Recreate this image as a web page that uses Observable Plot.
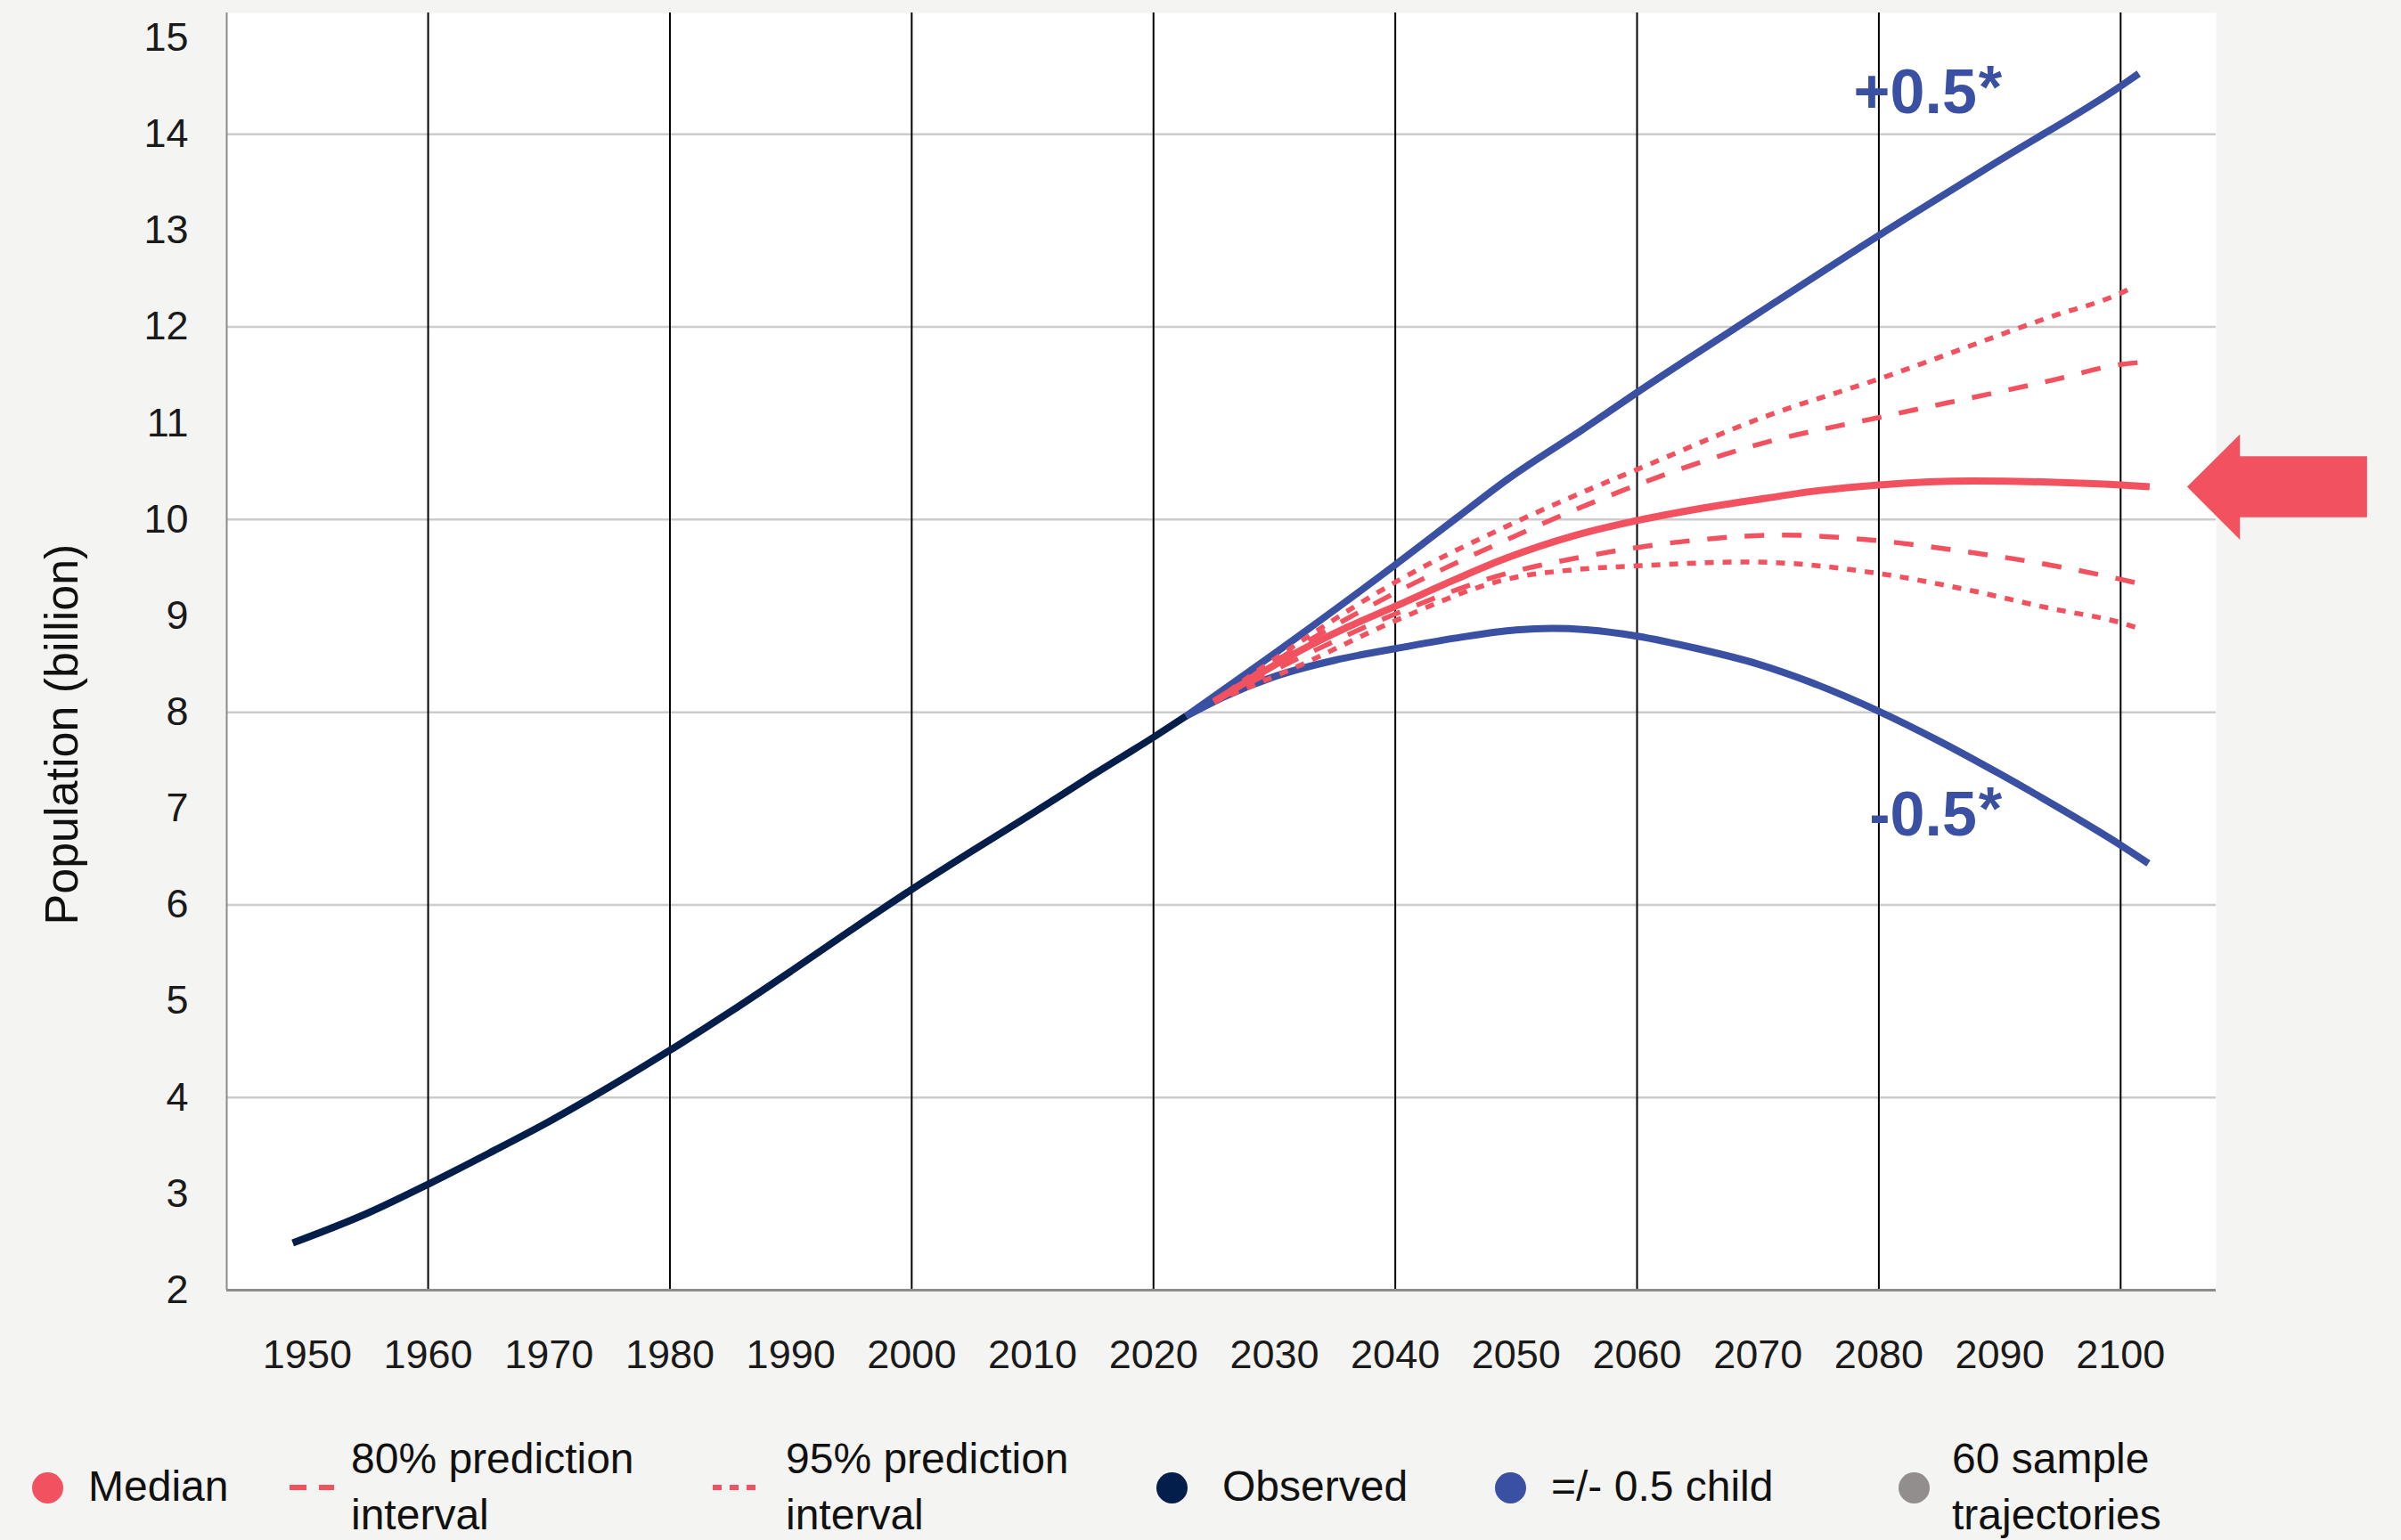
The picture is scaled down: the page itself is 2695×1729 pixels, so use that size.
<!DOCTYPE html>
<html><head><meta charset="utf-8">
<script src="https://cdn.jsdelivr.net/npm/d3@7"></script>
<script src="https://cdn.jsdelivr.net/npm/@observablehq/plot@0.6"></script>
<style>
html,body{margin:0;padding:0;background:#f4f4f2;}
body{width:2695px;height:1729px;overflow:hidden;font-family:"Liberation Sans",Arial,Helvetica,sans-serif;color:#111;}
#chart svg{display:block;}
#legend{position:relative;width:2695px;height:169px;font-size:48px;line-height:63px;}
#legend .txt{position:absolute;white-space:nowrap;}
#legend .mk{position:absolute;}
</style></head><body>
<div id="chart"></div>
<div id="legend"></div>
<script>
// ---------- data (years read against the chart's vertical grid) ----------
const obsYears = [1948.8, 1955, 1960, 1965, 1970, 1975, 1980, 1985, 1990, 1995, 2000, 2005, 2010, 2015, 2020, 2022.7];
const obsPop   = [2.49, 2.80, 3.10, 3.42, 3.75, 4.11, 4.49, 4.89, 5.31, 5.74, 6.16, 6.56, 6.95, 7.35, 7.74, 7.96];

const plusYears = [2022.7, 2032, 2040, 2045, 2049.2, 2055.8, 2060, 2070, 2080, 2090, 2100, 2101.5];
const plusPop   = [7.96, 8.79, 9.53, 10.01, 10.41, 10.96, 11.32, 12.14, 12.95, 13.73, 14.50, 14.63];

const minusYears = [2022.7, 2026, 2030, 2035, 2040, 2045, 2050, 2053, 2056, 2060, 2065, 2070, 2075, 2080, 2085, 2090, 2095, 2100, 2102.3];
const minusPop   = [7.96, 8.17, 8.37, 8.54, 8.66, 8.77, 8.855, 8.87, 8.855, 8.79, 8.66, 8.50, 8.28, 8.01, 7.70, 7.36, 7.00, 6.62, 6.43];

const medianYears = [2025, 2028, 2032, 2036, 2040, 2045, 2049.2, 2055, 2060, 2065, 2070.6, 2075, 2080, 2087.8, 2094, 2100, 2102.4];
const medianPop   = [8.11, 8.34, 8.63, 8.88, 9.10, 9.38, 9.60, 9.84, 9.99, 10.11, 10.22, 10.30, 10.36, 10.40, 10.39, 10.36, 10.34];

const up95Years = [2025, 2032, 2040, 2049.2, 2055.8, 2060, 2070.6, 2080, 2094.1, 2100, 2101];
const up95Pop   = [8.11, 8.72, 9.35, 9.93, 10.30, 10.52, 11.07, 11.46, 12.10, 12.35, 12.41];

const up80Years = [2025, 2032, 2040, 2049.2, 2055.8, 2060, 2070.6, 2080, 2094.1, 2100, 2102.4];
const up80Pop   = [8.11, 8.68, 9.24, 9.79, 10.15, 10.36, 10.80, 11.06, 11.44, 11.61, 11.64];

const lo80Years = [2025, 2032, 2040, 2049.2, 2055.8, 2060, 2066, 2071.8, 2080, 2087, 2094.1, 2100, 2102.4];
const lo80Pop   = [8.11, 8.56, 9.02, 9.44, 9.62, 9.71, 9.80, 9.84, 9.78, 9.67, 9.53, 9.38, 9.31];

const lo95Years = [2025, 2032, 2040, 2049.2, 2055.8, 2060, 2069.3, 2080, 2087, 2094.1, 2100, 2101.3];
const lo95Pop   = [8.11, 8.48, 8.95, 9.38, 9.49, 9.52, 9.56, 9.44, 9.28, 9.08, 8.93, 8.88];

const xTickYears = [1950, 1960, 1970, 1980, 1990, 2000, 2010, 2020, 2030, 2040, 2050, 2060, 2070, 2080, 2090, 2100];
const gridYears  = [1960, 1980, 2000, 2020, 2040, 2060, 2080, 2100];
const yTicks     = [2, 3, 4, 5, 6, 7, 8, 9, 10, 11, 12, 13, 14, 15];
const yGrid      = [4, 6, 8, 10, 12, 14];

const annotations = [
  {year: 2088.1, value: 14.425, text: "+0.5"},
  {year: 2088.1, value: 6.93,  text: "-0.5"}
];

const legendLabels = [["Median"], ["80% prediction", "interval"], ["95% prediction", "interval"], ["Observed"], ["=/- 0.5 child"], ["60 sample", "trajectories"]];

// ---------- styles ----------
const RED = "#f2525f", BLUE = "#3a50a2", NAVY = "#041e4c", GRAY = "#938e8e";
const xDomain = [1943.34, 2107.9];
const yDomain = [2, 15.26];

const toRows = (ys, vs) => ys.map((y, i) => ({year: y, value: vs[i]}));
const obs = toRows(obsYears, obsPop);
const plus = toRows(plusYears, plusPop);
const minus = toRows(minusYears, minusPop);
const med = toRows(medianYears, medianPop);
const up95 = toRows(up95Years, up95Pop);
const up80 = toRows(up80Years, up80Pop);
const lo80 = toRows(lo80Years, lo80Pop);
const lo95 = toRows(lo95Years, lo95Pop);

const arrowSymbol = {
  draw(ctx) {
    ctx.moveTo(0, 0);
    ctx.lineTo(59.4, -59);
    ctx.lineTo(59.4, -34.3);
    ctx.lineTo(202, -34.3);
    ctx.lineTo(202, 34.3);
    ctx.lineTo(59.4, 34.3);
    ctx.lineTo(59.4, 59.5);
    ctx.closePath();
  }
};

const lineOpts = (stroke, w, dash) => ({x: "year", y: "value", stroke, strokeWidth: w, strokeDasharray: dash, curve: "monotone-x", strokeLinecap: "butt", strokeLinejoin: "round"});

const chart = Plot.plot({
  width: 2695,
  height: 1560,
  marginLeft: 254,
  marginRight: 208,
  marginTop: 14,
  marginBottom: 112,
  style: {background: "transparent", fontFamily: '"Liberation Sans", Arial, Helvetica, sans-serif', fontSize: "45px", color: "#1a1a1a"},
  x: {domain: xDomain},
  y: {domain: yDomain},
  marks: [
    Plot.frame({fill: "white", stroke: "none"}),
    Plot.ruleY(yGrid, {stroke: "#cccccc", strokeWidth: 2.5}),
    Plot.ruleX(gridYears, {stroke: "#000", strokeWidth: 2}),
    Plot.ruleX([xDomain[0]], {stroke: "#8c8c8c", strokeWidth: 2}),
    Plot.ruleY([yDomain[0]], {stroke: "#8c8c8c", strokeWidth: 3}),
    Plot.axisY({ticks: yTicks, tickSize: 0, tickPadding: 43, label: null, fontSize: 45, tickFormat: d => String(d)}),
    Plot.axisX({ticks: xTickYears, tickSize: 0, tickPadding: 56, label: null, fontSize: 45, tickFormat: d => String(d)}),
    Plot.text(["Population (billion)"], {frameAnchor: "left", textAnchor: "middle", text: d => d, rotate: -90, dx: -184, dy: 93, fontSize: 52, fill: "#111"}),
    Plot.line(obs, lineOpts(NAVY, 8)),
    Plot.line(plus, lineOpts(BLUE, 8)),
    Plot.line(minus, lineOpts(BLUE, 8)),
    Plot.line(up95, lineOpts(RED, 5.5, "10,10")),
    Plot.line(lo95, lineOpts(RED, 5.5, "10,10")),
    Plot.line(up80, lineOpts(RED, 5.5, "22,20")),
    Plot.line(lo80, lineOpts(RED, 5.5, "22,20")),
    Plot.line(med, lineOpts(RED, 8)),
    Plot.text(annotations, {x: "year", y: "value", text: "text", textAnchor: "end", fontSize: 70, fontWeight: "bold", fill: BLUE}),
    Plot.text(annotations, {x: "year", y: "value", text: () => "*", textAnchor: "start", dx: 2, dy: -6, fontSize: 68, fontWeight: "bold", fill: BLUE}),
    Plot.dot([med[med.length - 1]], {x: "year", y: "value", dx: 42, symbol: arrowSymbol, r: 5, fill: RED, stroke: "none"})
  ]
});
document.getElementById("chart").append(chart);

// ---------- legend ----------
const legendLayout = [
  {kind: "dot", color: RED, mx: 36, tx: 99},
  {kind: "dash", color: RED, mx: 325, tx: 394},
  {kind: "dots", color: RED, mx: 800, tx: 882},
  {kind: "dot", color: NAVY, mx: 1298, tx: 1372},
  {kind: "dot", color: BLUE, mx: 1678, tx: 1741},
  {kind: "dot", color: GRAY, mx: 2131, tx: 2191}
];
const legend = document.getElementById("legend");
legendLabels.forEach((lines, i) => {
  const L = legendLayout[i];
  let mk;
  if (L.kind === "dot") {
    mk = document.createElement("div");
    mk.className = "mk";
    Object.assign(mk.style, {left: L.mx + "px", top: "93px", width: "35px", height: "35px", borderRadius: "50%", background: L.color});
  } else {
    mk = document.createElementNS("http://www.w3.org/2000/svg", "svg");
    mk.setAttribute("class", "mk");
    mk.setAttribute("width", "60");
    mk.setAttribute("height", "10");
    mk.style.left = L.mx + "px";
    mk.style.top = "105px";
    const ln = document.createElementNS("http://www.w3.org/2000/svg", "line");
    ln.setAttribute("x1", 0); ln.setAttribute("x2", L.kind === "dash" ? 50 : 49);
    ln.setAttribute("y1", 5); ln.setAttribute("y2", 5);
    ln.setAttribute("stroke", L.color); ln.setAttribute("stroke-width", 6);
    ln.setAttribute("stroke-dasharray", L.kind === "dash" ? "19,14" : "10,9");
    mk.append(ln);
  }
  legend.append(mk);
  const t = document.createElement("div");
  t.className = "txt";
  t.style.left = L.tx + "px";
  t.style.top = (lines.length > 1 ? 46 : 77) + "px";
  t.innerHTML = lines.join("<br>");
  legend.append(t);
});
</script>
</body></html>
